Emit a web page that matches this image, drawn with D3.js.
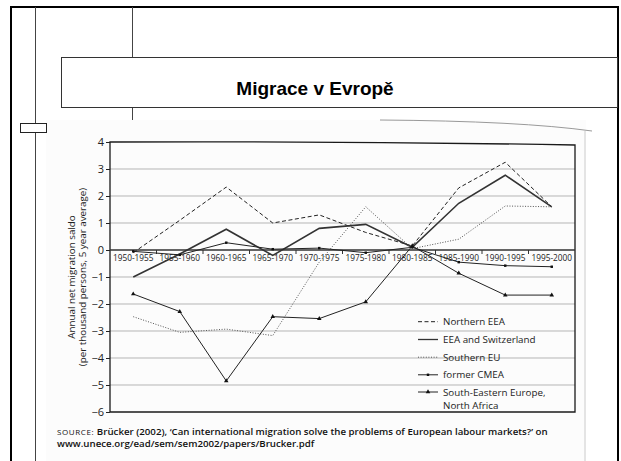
<!DOCTYPE html>
<html>
<head>
<meta charset="utf-8">
<script src="https://cdn.jsdelivr.net/npm/d3@7"></script>
<style>
  body { margin: 0; background: #fff; }
  svg { display: block; }
  .tick-label { font-family: "Open Sans", sans-serif; fill: #222; }
</style>
</head>
<body>
<div id="chart"></div>
<script>
// Data
const periods = [
  "1950-1955", "1955-1960", "1960-1965", "1965-1970", "1970-1975",
  "1975-1980", "1980-1985", "1985-1990", "1990-1995", "1995-2000"
];
const northernEEA = [-0.1, 1.1, 2.33, 1.0, 1.3, 0.65, 0.15, 2.3, 3.25, 1.6];
const eeaSwitzerland = [-1.0, -0.15, 0.77, -0.2, 0.8, 0.95, 0.1, 1.73, 2.77, 1.6];
const southernEU = [-2.47, -3.05, -2.93, -3.17, -0.45, 1.6, 0.05, 0.4, 1.63, 1.6];
const formerCMEA = [-0.05, -0.18, 0.27, 0.03, 0.07, -0.1, 0.1, -0.45, -0.58, -0.62];
const southEastEurope = [-1.63, -2.28, -4.85, -2.47, -2.54, -1.92, 0.15, -0.86, -1.67, -1.67];
const yTicks = [4, 3, 2, 1, 0, -1, -2, -3, -4, -5, -6];
const seriesNames = [
  ["Northern EEA"],
  ["EEA and Switzerland"],
  ["Southern EU"],
  ["former CMEA"],
  ["South-Eastern Europe,", "North Africa"]
];

const width = 621;
const height = 461;

const svg = d3
  .select("#chart")
  .append("svg")
  .attr("width", width)
  .attr("height", height);

// ---- slide frame ----
svg.append("rect")
  .attr("width", width).attr("height", height)
  .attr("fill", "#fff");

// scanned page
svg.append("rect")
  .attr("x", 46).attr("y", 120)
  .attr("width", 540).attr("height", 341)
  .attr("fill", "#fcfcfc");
svg.append("path")
  .attr("d", "M380,120 Q520,121 592,131")
  .attr("fill", "none")
  .attr("stroke", "#999")
  .attr("stroke-width", 1);
svg.append("line")
  .attr("x1", 585).attr("x2", 585)
  .attr("y1", 131).attr("y2", 461)
  .attr("stroke", "#ccc");

// outer border
svg.append("path")
  .attr("d", "M11,461 V7 H618 V461")
  .attr("fill", "none")
  .attr("stroke", "#000")
  .attr("stroke-width", 2);

// thin guide lines
svg.append("line")
  .attr("x1", 35.5).attr("x2", 35.5)
  .attr("y1", 7).attr("y2", 461)
  .attr("stroke", "#444");
svg.append("line")
  .attr("x1", 132.5).attr("x2", 132.5)
  .attr("y1", 7).attr("y2", 57)
  .attr("stroke", "#444");
svg.append("line")
  .attr("x1", 132.5).attr("x2", 132.5)
  .attr("y1", 108).attr("y2", 120)
  .attr("stroke", "#444");

// small box on the left
svg.append("rect")
  .attr("x", 20.5).attr("y", 123.5)
  .attr("width", 26).attr("height", 9)
  .attr("fill", "#fff")
  .attr("stroke", "#222");

// title box
svg.append("rect")
  .attr("x", 61.5).attr("y", 57.5)
  .attr("width", 556).attr("height", 50)
  .attr("fill", "#fff")
  .attr("stroke", "#333");
svg.append("text")
  .attr("x", 315)
  .attr("y", 95)
  .attr("text-anchor", "middle")
  .attr("font-family", "Liberation Sans, Arial, sans-serif")
  .attr("font-weight", "bold")
  .attr("font-size", 19)
  .attr("fill", "#000")
  .text("Migrace v Evropě");

// ---- chart ----
const plot = { left: 110, right: 575, top: 142, bottom: 412 };

const xScale = d3
  .scalePoint()
  .domain(periods)
  .range([plot.left, plot.right])
  .padding(0.5);

const xBand = d3
  .scaleBand()
  .domain(periods)
  .range([plot.left, plot.right]);

const yScale = d3
  .scaleLinear()
  .domain([-6, 4])
  .range([plot.bottom, plot.top]);

const chart = svg.append("g");

// grid lines
chart.append("g")
  .selectAll("line")
  .data(yTicks.filter(d => d !== 0 && d !== 4 && d !== -6))
  .join("line")
  .attr("x1", plot.left).attr("x2", plot.right)
  .attr("y1", d => yScale(d)).attr("y2", d => yScale(d))
  .attr("stroke", "#b5b5b5")
  .attr("stroke-width", 1);

// frame
chart.append("path")
  .attr("d", `M${plot.left},${plot.top} Q${(plot.left + plot.right) / 2},${plot.top - 1} ${plot.right},${plot.top + 3} V${plot.bottom} H${plot.left} Z`)
  .attr("fill", "none")
  .attr("stroke", "#1a1a1a")
  .attr("stroke-width", 1.3);

// y axis
const yAxis = chart.append("g")
  .attr("transform", `translate(${plot.left},0)`)
  .call(
    d3.axisLeft(yScale)
      .tickValues(yTicks)
      .tickSize(4)
      .tickPadding(2)
      .tickFormat(d => (d < 0 ? "\u2212" + Math.abs(d) : d))
  );
yAxis.select(".domain").remove();
yAxis.selectAll("line").attr("stroke", "#222");
yAxis.selectAll("text")
  .attr("class", "tick-label")
  .attr("font-size", 11)
  .attr("fill", "#222");

// x axis at zero
chart.append("line")
  .attr("x1", plot.left).attr("x2", plot.right)
  .attr("y1", yScale(0)).attr("y2", yScale(0))
  .attr("stroke", "#333")
  .attr("stroke-width", 1.6);

chart.append("g")
  .selectAll("line")
  .data(periods.slice(1))
  .join("line")
  .attr("x1", d => xBand(d)).attr("x2", d => xBand(d))
  .attr("y1", yScale(0)).attr("y2", yScale(0) + 4)
  .attr("stroke", "#333");

chart.append("g")
  .selectAll("text")
  .data(periods)
  .join("text")
  .attr("class", "tick-label")
  .attr("x", d => xScale(d))
  .attr("y", yScale(0) + 11)
  .attr("text-anchor", "middle")
  .attr("font-size", 8.3)
  .text(d => d);

// y axis title
const yTitle = chart.append("text")
  .attr("transform", `translate(75,${(plot.top + plot.bottom) / 2}) rotate(-90)`)
  .attr("text-anchor", "middle")
  .attr("font-family", "Open Sans, sans-serif")
  .attr("font-size", 9.8)
  .attr("fill", "#222");
yTitle.append("tspan").attr("x", 0).attr("dy", 0).text("Annual net migration saldo");
yTitle.append("tspan").attr("x", 0).attr("dy", 10.5).text("(per thousand persons, 5 year average)");

// lines
const line = d3
  .line()
  .x((d, i) => xScale(periods[i]))
  .y(d => yScale(d));

const styles = [
  { values: northernEEA, dash: "4,2.5", width: 1, color: "#222", marker: null },
  { values: eeaSwitzerland, dash: null, width: 1.6, color: "#333", marker: null },
  { values: southernEU, dash: "1,1.6", width: 1, color: "#555", marker: null },
  { values: formerCMEA, dash: null, width: 1, color: "#222", marker: d3.symbolSquare },
  { values: southEastEurope, dash: null, width: 1, color: "#222", marker: d3.symbolTriangle }
];

styles.forEach(function(s) {
  chart.append("path")
    .datum(s.values)
    .attr("d", line)
    .attr("fill", "none")
    .attr("stroke", s.color)
    .attr("stroke-width", s.width)
    .attr("stroke-dasharray", s.dash);

  if (s.marker) {
    chart.append("g")
      .selectAll("path")
      .data(s.values)
      .join("path")
      .attr("transform", (d, i) => `translate(${xScale(periods[i])},${yScale(d)})`)
      .attr("d", d3.symbol(s.marker).size(s.marker === d3.symbolSquare ? 6 : 9))
      .attr("fill", "#111");
  }
});

// legend
const legendX = 418;
const legendRows = [321.7, 339.5, 357.2, 374.8, 392];

styles.forEach(function(s, i) {
  const y = legendRows[i];
  chart.append("line")
    .attr("x1", legendX).attr("x2", legendX + 20)
    .attr("y1", y).attr("y2", y)
    .attr("stroke", s.color)
    .attr("stroke-width", s.width === 1.6 ? 1.3 : 1)
    .attr("stroke-dasharray", s.dash);
  if (s.marker) {
    chart.append("path")
      .attr("transform", `translate(${legendX + 10},${y})`)
      .attr("d", d3.symbol(s.marker).size(s.marker === d3.symbolSquare ? 6 : 9))
      .attr("fill", "#111");
  }
  seriesNames[i].forEach(function(t, j) {
    chart.append("text")
      .attr("x", legendX + 25)
      .attr("y", y + 3.5 + j * 13.6)
      .attr("font-family", "Open Sans, sans-serif")
      .attr("font-size", 9.8)
      .attr("fill", "#222")
      .text(t);
  });
});

// source note
const source = svg.append("text")
  .attr("font-family", "Open Sans, sans-serif")
  .attr("font-size", 9.7)
  .attr("font-weight", 600)
  .attr("fill", "#111");
const sourceLine1 = source.append("tspan")
  .attr("x", 57)
  .attr("y", 435);
sourceLine1.append("tspan")
  .attr("font-weight", 400)
  .attr("font-size", 8)
  .attr("letter-spacing", 0.6)
  .text("SOURCE: ");
sourceLine1.append("tspan")
  .text("Brücker (2002), \u2018Can international migration solve the problems of European labour markets?\u2019 on");
source.append("tspan")
  .attr("x", 57)
  .attr("y", 447)
  .text("www.unece.org/ead/sem/sem2002/papers/Brucker.pdf");
</script>
</body>
</html>
